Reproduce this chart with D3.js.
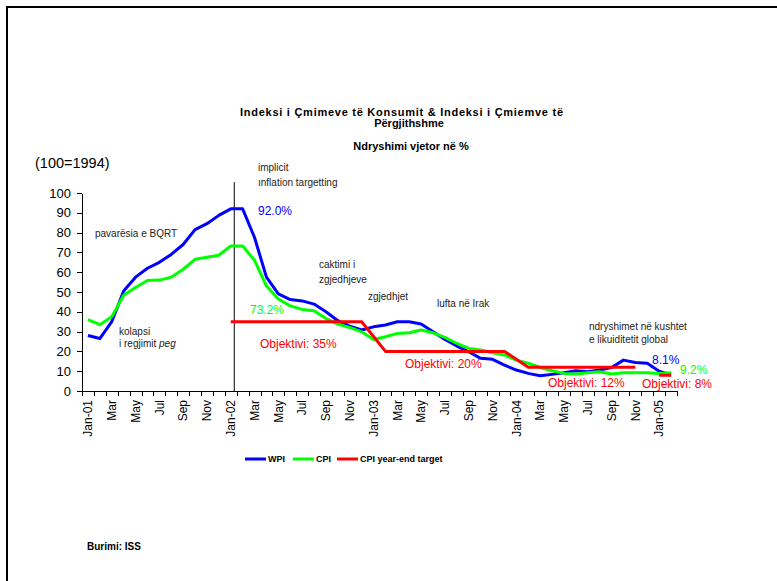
<!DOCTYPE html>
<html lang="sq">
<head>
<meta charset="UTF-8">
<title>Indeksi i Çmimeve</title>
<script src="https://cdn.jsdelivr.net/npm/d3@7"></script>
<style>
  body { margin: 0; background: #fff; }
  svg text { font-family: "Liberation Sans", Arial, sans-serif; }
  .axis path, .axis line { stroke: #000; shape-rendering: crispEdges; }
  .note { font-size: 10px; fill: #222; }
</style>
</head>
<body>
<div id="chart"></div>
<script>
// categories (monthly, Jan-01 .. Feb-05)
var months = [
  "Jan-01","Feb-01","Mar-01","Apr-01","May-01","Jun-01","Jul-01","Aug-01","Sep-01","Oct-01","Nov-01","Dec-01",
  "Jan-02","Feb-02","Mar-02","Apr-02","May-02","Jun-02","Jul-02","Aug-02","Sep-02","Oct-02","Nov-02","Dec-02",
  "Jan-03","Feb-03","Mar-03","Apr-03","May-03","Jun-03","Jul-03","Aug-03","Sep-03","Oct-03","Nov-03","Dec-03",
  "Jan-04","Feb-04","Mar-04","Apr-04","May-04","Jun-04","Jul-04","Aug-04","Sep-04","Oct-04","Nov-04","Dec-04",
  "Jan-05","Feb-05"
];

var wpi = [
  28, 26.5, 35, 50.5, 57.5, 62, 65, 69, 74, 81.5, 84.5, 88.7,
  92, 92, 77.5, 57.5, 49, 46.2, 45.5, 43.9, 40, 35.5, 32.8, 30.8,
  32.4, 33.3, 35, 35, 33.8, 29.9, 26, 22.7, 19.8, 16.5, 16, 13.1,
  10.6, 8.9, 7.7, 8.4, 9.2, 10.2, 9.7, 10.6, 11.9, 15.6, 14.4, 14,
  10, 8.1
];

var cpi = [
  36, 33.5, 37.5, 48.4, 52.3, 55.8, 56, 57.5, 61.5, 66.5, 67.5, 68.6,
  73.2, 73.2, 66, 53, 46.5, 43, 41.2, 40.5, 36.6, 33.8, 32.1, 29.9,
  26, 27.4, 29.1, 29.4, 30.8, 29.4, 27.1, 24, 21.5, 20.7, 19.3, 18.2,
  15.6, 14, 11.9, 10.2, 8.9, 8.6, 9.2, 9.7, 8.6, 9.2, 9.2, 9.2,
  8.9, 9.2
];

var target = [
  null, null, null, null, null, null, null, null, null, null, null, null,
  35, 35, 35, 35, 35, 35, 35, 35, 35, 35, 35, 35,
  27.5, 20, 20, 20, 20, 20, 20, 20, 20, 20, 20, 20,
  16, 12, 12, 12, 12, 12, 12, 12, 12, 12, 12, null,
  8, 8
];

var yTicks = [0, 10, 20, 30, 40, 50, 60, 70, 80, 90, 100];

var titleLines = ["Indeksi i Çmimeve të Konsumit & Indeksi i Çmiemve të", "Përgjithshme"];
var subtitle = "Ndryshimi vjetor në %";

var series = [
  { name: "WPI", values: wpi, color: "#0000ff" },
  { name: "CPI", values: cpi, color: "#00ff00" },
  { name: "CPI year-end target", values: target, color: "#ff0000" }
];

var W = 777, H = 581;

var svg = d3.select("#chart").append("svg")
  .attr("width", W).attr("height", H);

// outer frame (continues past the right and bottom edges)
svg.append("rect")
  .attr("x", 7).attr("y", 7)
  .attr("width", W + 20).attr("height", H + 20)
  .attr("fill", "none").attr("stroke", "#000").attr("stroke-width", 2);

var x = d3.scaleBand().domain(months).range([82, 677]).padding(0);
var cx = function (m) { return x(m) + x.bandwidth() / 2; };
var y = d3.scaleLinear().domain([0, 100]).range([391, 193]);

// title
svg.append("text")
  .attr("x", 240).attr("y", 116)
  .attr("textLength", 323).attr("lengthAdjust", "spacing")
  .style("font-size", "11px").style("font-weight", "bold")
  .text(titleLines[0]);

svg.append("text")
  .attr("x", 409).attr("y", 127)
  .attr("text-anchor", "middle")
  .style("font-size", "11px").style("font-weight", "bold")
  .text(titleLines[1]);

svg.append("text")
  .attr("x", 411).attr("y", 150)
  .attr("text-anchor", "middle")
  .style("font-size", "11px").style("font-weight", "bold")
  .text(subtitle);

svg.append("text")
  .attr("x", 35).attr("y", 168)
  .style("font-size", "14.5px")
  .text("(100=1994)");

// y axis
var yAxis = svg.append("g")
  .attr("class", "axis")
  .attr("transform", "translate(82,0)")
  .call(d3.axisLeft(y).tickValues(yTicks).tickSize(5).tickPadding(6).tickSizeOuter(0));
yAxis.selectAll("text").style("font-size", "13px").attr("fill", "#000");

// x axis: ticks on category boundaries, labels every second month
var xb = d3.scaleLinear().domain([0, months.length]).range([82, 677]);
svg.append("g")
  .attr("class", "axis")
  .attr("transform", "translate(0," + y(0) + ")")
  .call(d3.axisBottom(xb).tickValues(d3.range(months.length + 1)).tickFormat("").tickSize(5).tickSizeOuter(0));

var labelled = months.filter(function (d, i) { return i % 2 === 0; });
svg.selectAll(".xlab")
  .data(labelled)
  .enter().append("text")
  .attr("class", "xlab")
  .attr("transform", function (d) { return "translate(" + cx(d) + "," + (y(0) + 9) + ") rotate(-90)"; })
  .attr("dy", "0.35em")
  .attr("text-anchor", "end")
  .style("font-size", "12px")
  .text(function (d) { return d.indexOf("Jan") === 0 ? d : d.slice(0, 3); });

// vertical marker at the start of 2002
var jan02 = cx("Jan-02") + 3.5;
svg.append("line")
  .attr("x1", jan02).attr("x2", jan02)
  .attr("y1", y(105.5)).attr("y2", y(0))
  .attr("stroke", "#000").attr("stroke-width", 1);

// lines
var line = d3.line()
  .defined(function (d) { return d.v !== null; })
  .x(function (d) { return cx(d.m); })
  .y(function (d) { return y(d.v); });

series.forEach(function (s) {
  var pts = months.map(function (m, i) { return { m: m, v: s.values[i] }; });
  svg.append("path")
    .datum(pts)
    .attr("fill", "none")
    .attr("stroke", s.color)
    .attr("stroke-width", 3)
    .attr("stroke-linejoin", "round")
    .attr("d", line);
});

// annotations
var notes = [
  { t: "pavarësia e BQRT", x: 95, y: 237 },
  { t: "kolapsi", x: 119, y: 335 },
  { t: "implicit", x: 258, y: 171 },
  { t: "ınflation targetting", x: 258, y: 186 },
  { t: "caktimi i", x: 319, y: 268 },
  { t: "zgjedhjeve", x: 319, y: 283 },
  { t: "zgjedhjet", x: 368, y: 300 },
  { t: "lufta në Irak", x: 437, y: 307 },
  { t: "ndryshimet në kushtet", x: 589, y: 330 },
  { t: "e likuiditetit global", x: 589, y: 343 }
];
svg.selectAll(".note")
  .data(notes)
  .enter().append("text")
  .attr("class", "note")
  .attr("x", function (d) { return d.x; })
  .attr("y", function (d) { return d.y; })
  .text(function (d) { return d.t; });

var peg = svg.append("text").attr("class", "note").attr("x", 119).attr("y", 347);
peg.append("tspan").text("i regjimit ");
peg.append("tspan").style("font-style", "italic").text("peg");

var valueLabels = [
  { t: "92.0%", x: 258, y: 215, c: "#0000ff" },
  { t: "73.2%", x: 250, y: 314, c: "#00ff00" },
  { t: "Objektivi: 35%", x: 260, y: 348, c: "#ff0000" },
  { t: "Objektivi: 20%", x: 405, y: 368, c: "#ff0000" },
  { t: "8.1%", x: 652, y: 364, c: "#0000ff" },
  { t: "9.2%", x: 680, y: 374, c: "#00ff00" },
  { t: "Objektivi: 12%", x: 548, y: 387, c: "#ff0000" },
  { t: "Objektivi: 8%", x: 642, y: 388, c: "#ff0000" }
];
svg.selectAll(".vlab")
  .data(valueLabels)
  .enter().append("text")
  .attr("x", function (d) { return d.x; })
  .attr("y", function (d) { return d.y; })
  .attr("fill", function (d) { return d.c; })
  .style("font-size", "12px")
  .text(function (d) { return d.t; });

// legend
var legendX = [245, 293, 337];
var lg = svg.selectAll(".lg")
  .data(series)
  .enter().append("g")
  .attr("transform", function (d, i) { return "translate(" + legendX[i] + ",459)"; });
lg.append("line")
  .attr("x1", 0).attr("x2", 21)
  .attr("stroke", function (d) { return d.color; })
  .attr("stroke-width", 3);
lg.append("text")
  .attr("x", 23).attr("dy", "0.35em")
  .style("font-size", "9px").style("font-weight", "bold")
  .text(function (d) { return d.name; });

svg.append("text")
  .attr("x", 87).attr("y", 550)
  .style("font-size", "10px").style("font-weight", "bold")
  .text("Burimi: ISS");
</script>
</body>
</html>
